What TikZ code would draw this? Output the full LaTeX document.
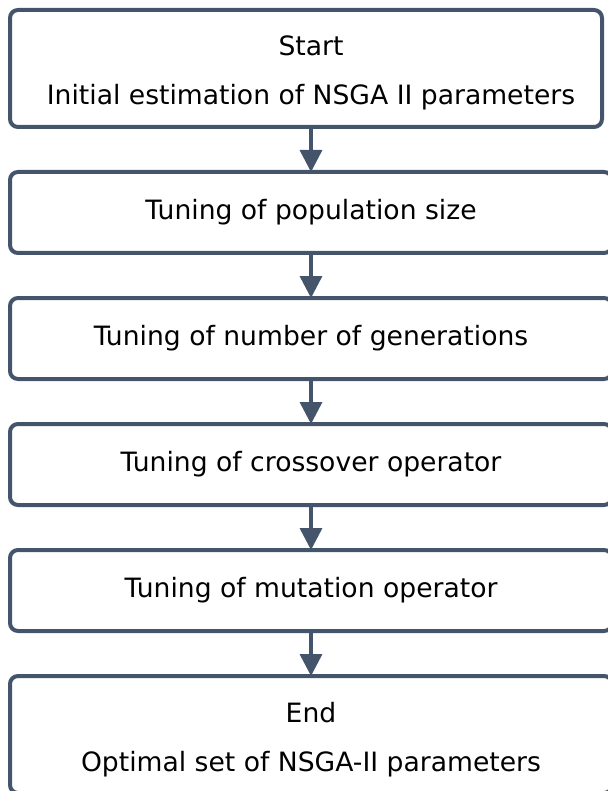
\documentclass[tikz,border=0pt]{standalone}
\usepackage{fontspec}
\setmainfont{DejaVu Sans}
\usepackage{tikz}
\usepackage{xcolor}
\usetikzlibrary{positioning}
\usetikzlibrary{arrows.meta}
\definecolor{slate}{RGB}{68,84,106}
\tikzstyle{tallbox} = [rectangle, rounded corners=8pt, minimum width=592pt, minimum height=117pt, text centered, align=center, draw=slate, line width=4pt, outer sep=0pt]
\tikzstyle{process} = [rectangle, rounded corners=8pt, minimum width=602pt, minimum height=81pt, text centered, draw=slate, line width=4pt, outer sep=0pt]
\tikzstyle{arrow} = [draw=slate, line width=3.5pt, -{Triangle[width=22pt,length=22pt]}, slate]

\begin{document}
\begin{tikzpicture}[node distance=45pt, font=\fontsize{26.6}{31}\selectfont]
        \useasboundingbox (0,0) rectangle (607pt,-791pt);

        \node (start) [tallbox] at (306pt,-68.5pt) {\hspace*{10pt}\rule{0pt}{29pt}Start\\[18pt]\hspace*{10pt}Initial estimation of NSGA II parameters};
        \node (popsize) [process, below=of start, xshift=5pt] {Tuning of population size};
        \node (generations) [process, below=of popsize] {Tuning of number of generations};
        \node (crossover) [process, below=of generations] {Tuning of crossover operator};
        \node (mutation) [process, below=of crossover] {Tuning of mutation operator};
        \node (finish) [tallbox, minimum width=602pt, below=of mutation] {\rule{0pt}{30pt}End\\[18pt]Optimal set of NSGA-II parameters};

        \draw [arrow] (start.south -| popsize.north) -- (popsize);
        \draw [arrow] (popsize) -- (generations);
        \draw [arrow] (generations) -- (crossover);
        \draw [arrow] (crossover) -- (mutation);
        \draw [arrow] (mutation) -- (finish);
    \end{tikzpicture}
\end{document}
